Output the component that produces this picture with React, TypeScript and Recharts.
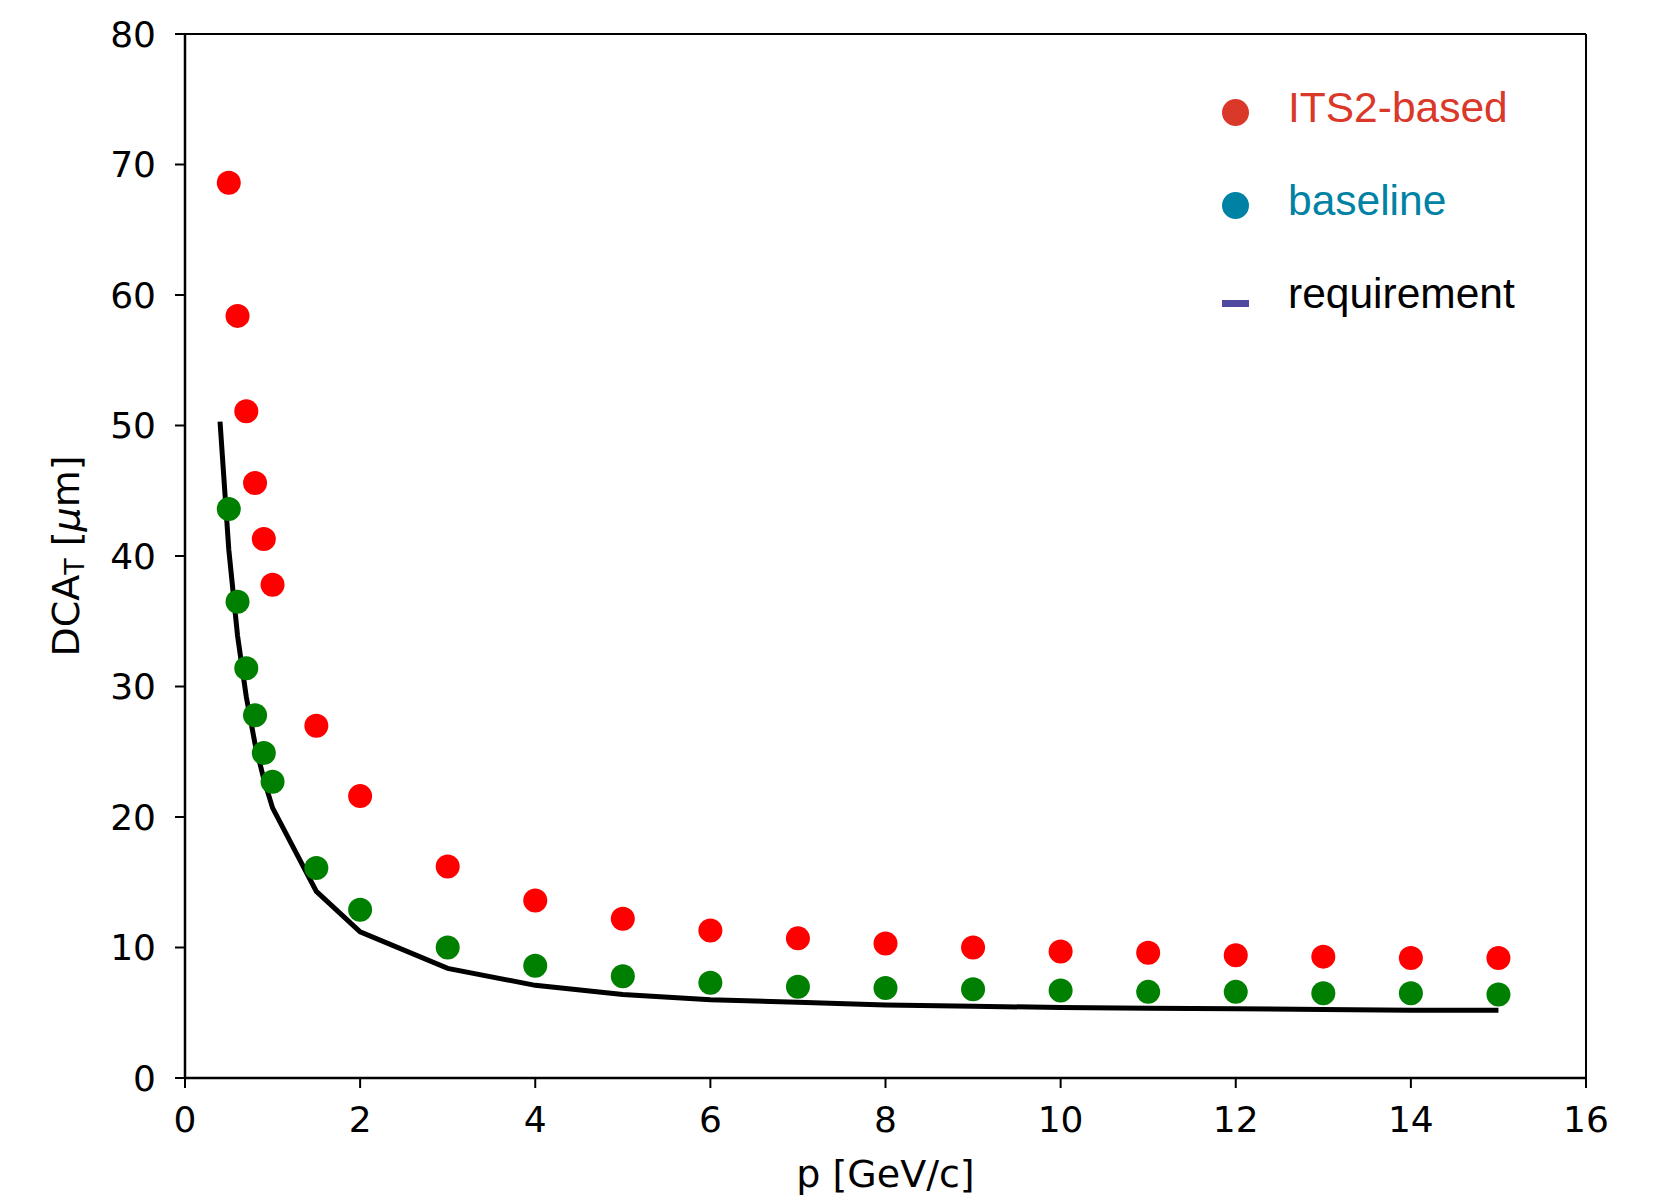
import { ComposedChart, Line, Scatter, XAxis, YAxis, ReferenceLine } from 'recharts'

// momentum points of the two simulated layouts
const P = [0.5, 0.6, 0.7, 0.8, 0.9, 1, 1.5, 2, 3, 4, 5, 6, 7, 8, 9, 10, 11, 12, 13, 14, 15]
const ITS2 = [68.6, 58.4, 51.1, 45.6, 41.3, 37.8, 27.0, 21.6, 16.2, 13.6, 12.2, 11.3, 10.7, 10.3, 10.0, 9.7, 9.6, 9.4, 9.3, 9.2, 9.2]
const BASELINE = [43.6, 36.5, 31.4, 27.8, 24.9, 22.7, 16.1, 12.9, 10.0, 8.6, 7.8, 7.3, 7.0, 6.9, 6.8, 6.7, 6.6, 6.6, 6.5, 6.5, 6.4]

// requirement curve
const REQ_P = [0.4, 0.5, 0.6, 0.7, 0.8, 0.9, 1, 1.5, 2, 3, 4, 5, 6, 7, 8, 9, 10, 11, 12, 13, 14, 15]
const REQ = [50.3, 40.5, 33.9, 29.2, 25.6, 22.9, 20.7, 14.3, 11.2, 8.4, 7.1, 6.4, 6.0, 5.8, 5.6, 5.5, 5.4, 5.35, 5.3, 5.25, 5.2, 5.2]

const X_TICKS = [0, 2, 4, 6, 8, 10, 12, 14, 16]
const Y_TICKS = [0, 10, 20, 30, 40, 50, 60, 70, 80]

const LEGEND = [
  { name: 'ITS2-based', color: '#DA3828', text: '#DA3828', kind: 'dot' },
  { name: 'baseline', color: '#0082A4', text: '#0082A4', kind: 'dot' },
  { name: 'requirement', color: '#4F4AA0', text: '#000000', kind: 'dash' },
]

const its2Data = P.map((p, i) => ({ x: p, y: ITS2[i] }))
const baseData = P.map((p, i) => ({ x: p, y: BASELINE[i] }))
const reqData = REQ_P.map((p, i) => ({ x: p, y: REQ[i] }))

const TICK_FONT = { fontFamily: 'DejaVu Sans', fontSize: 36, fill: '#000' }

const Dot = (color: string) => (props: any) => <circle cx={props.cx} cy={props.cy} r={12} fill={color} />

function YLabel(props: any) {
  const vb = props.viewBox
  const cx = vb.x + vb.width - 119
  const cy = vb.y + vb.height / 2
  return (
    <text
      x={cx}
      y={cy}
      transform={`rotate(-90 ${cx} ${cy})`}
      textAnchor="middle"
      dominantBaseline="central"
      fontFamily="DejaVu Sans"
      fontSize={38}
      fill="#000"
    >
      DCA<tspan fontSize={27} dy={8}>T</tspan>
      <tspan dy={-8}> [</tspan>
      <tspan fontStyle="italic">μ</tspan>m]
    </text>
  )
}

export default function App() {
  return (
    <div style={{ position: 'absolute', left: 0, top: 0, width: 1659, height: 1197, background: '#fff' }}>
      <ComposedChart width={1659} height={1197} margin={{ top: 34, right: 73, bottom: 59, left: 105 }}>
        <XAxis
          type="number"
          dataKey="x"
          domain={[0, 16]}
          ticks={X_TICKS}
          allowDataOverflow
          height={60}
          stroke="#000"
          strokeWidth={2.5}
          tickSize={10}
          tickMargin={18}
          tick={TICK_FONT}
          tickLine={{ stroke: '#000', strokeWidth: 2 }}
          label={{ value: 'p [GeV/c]', position: 'bottom', offset: 22, style: { fontFamily: 'DejaVu Sans', fontSize: 38, fill: '#000' } }}
        />
        <YAxis
          type="number"
          dataKey="y"
          domain={[0, 80]}
          ticks={Y_TICKS}
          allowDataOverflow
          width={80}
          stroke="#000"
          strokeWidth={2.5}
          tickSize={10}
          tickMargin={19}
          tick={TICK_FONT}
          tickLine={{ stroke: '#000', strokeWidth: 2 }}
          label={{ content: YLabel }}
        />
        <ReferenceLine y={80} stroke="#000" strokeWidth={2} />
        <ReferenceLine x={16} stroke="#000" strokeWidth={2} />
        <Line
          data={reqData}
          dataKey="y"
          type="linear"
          stroke="#000"
          strokeWidth={5}
          dot={false}
          isAnimationActive={false}
        />
        <Scatter data={its2Data} dataKey="y" shape={Dot('#FF0000')} isAnimationActive={false} />
        <Scatter data={baseData} dataKey="y" shape={Dot('#008000')} isAnimationActive={false} />
      </ComposedChart>
      <div style={{ position: 'absolute', left: 1221, top: 84, fontFamily: 'Liberation Sans, Arial, sans-serif', fontSize: 42.5 }}>
        {LEGEND.map((l) => (
          <div key={l.name} style={{ display: 'flex', alignItems: 'center', height: 47, marginBottom: 46 }}>
            <span style={{ width: 66, display: 'flex', justifyContent: 'flex-start', paddingLeft: 1 }}>
              {l.kind === 'dot' ? (
                <span style={{ width: 27, height: 27, borderRadius: '50%', background: l.color, display: 'inline-block', marginTop: 10 }} />
              ) : (
                <span style={{ width: 27, height: 7, background: l.color, display: 'inline-block', marginTop: 20 }} />
              )}
            </span>
            <span style={{ color: l.text }}>{l.name}</span>
          </div>
        ))}
      </div>
    </div>
  )
}
